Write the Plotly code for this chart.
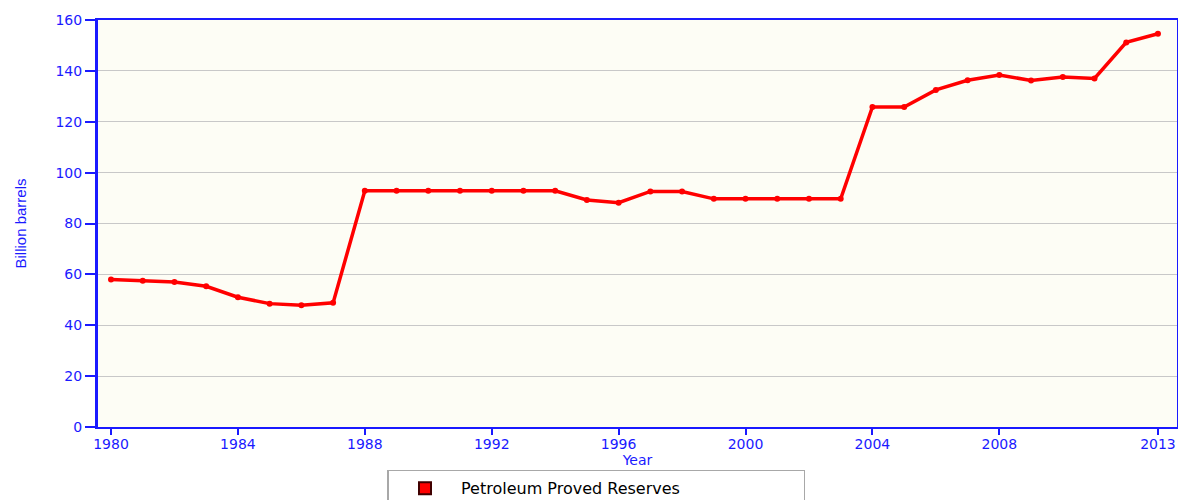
import plotly.graph_objects as go

years = list(range(1980, 2014))
reserves = [58.0, 57.5, 57.0, 55.3, 51.0, 48.5, 47.9, 48.8, 92.85, 92.85,
            92.85, 92.85, 92.85, 92.85, 92.85, 89.25, 88.2, 92.6, 92.6, 89.7,
            89.7, 89.7, 89.7, 89.7, 125.8, 125.8, 132.5, 136.3, 138.4, 136.2,
            137.6, 137.0, 151.2, 154.6]
tick_years = [1980, 1984, 1988, 1992, 1996, 2000, 2004, 2008, 2013]
tick_labels = [str(y) for y in tick_years]
series_name = "Petroleum Proved Reserves"

BLUE = "#1a1aff"
fig = go.Figure()
fig.add_trace(go.Scatter(
    x=years, y=reserves, mode="lines+markers", showlegend=False,
    line=dict(color="#ff0000", width=3.5),
    marker=dict(color="#ff0000", size=6),
    name=series_name,
))
fig.add_trace(go.Scatter(
    x=[None], y=[None], mode="markers", name=series_name,
    marker=dict(symbol="square", color="#ff0000", size=12,
                line=dict(color="#400000", width=1.5)),
))

# page body has an 8px default margin, so the figure is sized to the visible area
fig.update_layout(
    width=1178, height=492,
    margin=dict(l=90, r=9, t=12, b=73, autoexpand=False),
    paper_bgcolor="white", plot_bgcolor="#fdfdf5",
    font=dict(family="DejaVu Sans, Verdana, sans-serif", color=BLUE, size=13),
    legend=dict(orientation="h", x=0.462, xanchor="center", y=-0.105, yanchor="top",
                bordercolor="#a8a8a8", borderwidth=1.5, bgcolor="white",
                font=dict(family="DejaVu Sans, Verdana, sans-serif", size=16, color="black"),
                entrywidth=338, itemwidth=62, itemsizing="constant"),
)
fig.update_xaxes(
    automargin=False,
    range=[1979.59, 2013.6], tickmode="array", tickvals=tick_years, ticktext=tick_labels,
    showgrid=False, zeroline=False,
    showline=True, linecolor=BLUE, linewidth=2, mirror=True,
    ticks="outside", ticklen=6, tickwidth=2, tickcolor=BLUE, ticklabelstandoff=-3,
    tickfont=dict(size=14, color=BLUE),
    title=dict(text="Year", standoff=0, font=dict(size=14, color=BLUE)),
)
fig.update_yaxes(
    automargin=False,
    range=[0, 160], tickmode="linear", tick0=0, dtick=20,
    showgrid=True, gridcolor="#c8c8c8", gridwidth=1, zeroline=False,
    showline=True, linecolor=BLUE, linewidth=3, mirror=True,
    ticks="outside", ticklen=10, tickwidth=2, tickcolor=BLUE,
    tickfont=dict(size=14, color=BLUE),
    title=dict(text="Billion barrels", standoff=26,
               font=dict(family="Liberation Sans Narrow, Arial Narrow, sans-serif", size=15, color=BLUE)),
)

fig.write_html("out.html")
